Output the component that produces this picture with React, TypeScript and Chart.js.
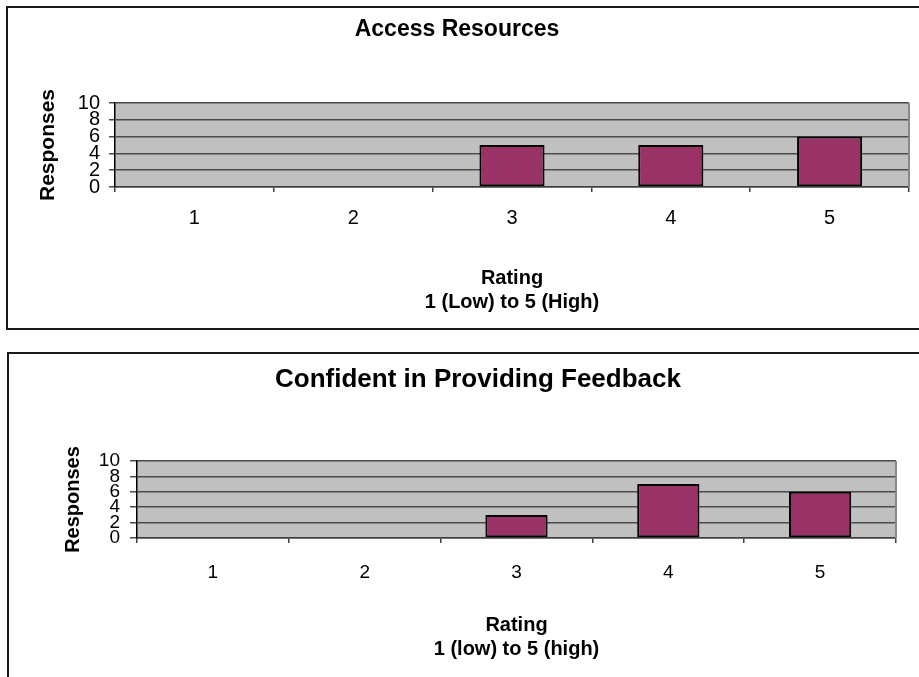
import React, { useEffect, useRef } from 'react';
import { Chart, registerables } from 'chart.js';

Chart.register(...registerables);
Chart.defaults.font.family = '"Liberation Sans", Arial, Helvetica, sans-serif';

// Survey data: number of responses per rating (1 = low, 5 = high)
const ratingLabels = ['1', '2', '3', '4', '5'];
const accessResources = [0, 0, 5, 5, 6];
const confidentFeedback = [0, 0, 3, 7, 6];
const responseTicks = [0, 2, 4, 6, 8, 10];

const accessTitle = 'Access Resources';
const accessAxisTitle = ['Rating', '1 (Low) to 5 (High)'];
const feedbackTitle = 'Confident in Providing Feedback';
const feedbackAxisTitle = ['Rating', '1 (low) to 5 (high)'];

type Geometry = {
  left: number;
  top: number;
  width: number;
  height: number;
  padRight: number;
  titleSize: number;
  titlePadTop: number;
  titlePadBottom: number;
  yWidth: number;
  yTitleSize: number;
  yTitlePad: number;
  yTickLen: number;
  yTickPad: number;
  tickSize: number;
  xTickPad: number;
  xHeight: number;
  xTitleSize: number;
};

// Grey plot background and a light frame on the right edge
const plotFrame = {
  id: 'plotFrame',
  beforeDraw(chart: Chart) {
    const { ctx, chartArea: a } = chart;
    ctx.save();
    ctx.fillStyle = '#c0c0c0';
    ctx.fillRect(a.left, a.top, a.right - a.left, a.bottom - a.top);
    ctx.restore();
  },
  afterDraw(chart: Chart) {
    const { ctx, chartArea: a } = chart;
    ctx.save();
    ctx.strokeStyle = '#888888';
    ctx.lineWidth = 2;
    ctx.beginPath();
    ctx.moveTo(a.right, a.top);
    ctx.lineTo(a.right, a.bottom);
    ctx.stroke();
    ctx.restore();
  },
};

function RatingChart(props: { title: string; values: number[]; xTitle: string[]; g: Geometry }) {
  const ref = useRef<HTMLCanvasElement | null>(null);
  const { title, values, xTitle, g } = props;

  useEffect(() => {
    if (!ref.current) return;
    const chart = new Chart(ref.current, {
      type: 'bar',
      data: {
        labels: ratingLabels,
        datasets: [
          {
            data: values,
            backgroundColor: '#993366',
            borderColor: '#000000',
            borderWidth: (c: any) => (c.raw ? 2 : 0),
            borderSkipped: false,
            categoryPercentage: 1,
            barPercentage: 0.41,
          },
        ],
      },
      options: {
        responsive: false,
        animation: false,
        devicePixelRatio: 1,
        layout: { padding: { left: 0, top: 0, right: g.padRight, bottom: 0 } },
        plugins: {
          legend: { display: false },
          tooltip: { enabled: false },
          title: {
            display: true,
            text: title,
            color: '#000',
            font: { size: g.titleSize, weight: 'bold', lineHeight: 1.2 },
            padding: { top: g.titlePadTop, bottom: g.titlePadBottom },
          },
        },
        scales: {
          x: {
            grid: {
              display: true,
              drawOnChartArea: false,
              drawTicks: true,
              tickLength: 5,
              color: '#404040',
              lineWidth: 1.5,
              offset: true,
            },
            border: { display: true, color: '#404040', width: 1.5 },
            ticks: {
              color: '#000',
              font: { size: g.tickSize },
              padding: g.xTickPad,
              maxRotation: 0,
              autoSkip: false,
            },
            title: {
              display: true,
              text: xTitle,
              color: '#000',
              font: { size: g.xTitleSize, weight: 'bold', lineHeight: 1.2 },
              padding: { top: 0, bottom: 0 },
            },
            afterFit: (s: any) => {
              s.height = g.xHeight;
            },
          },
          y: {
            min: 0,
            max: 10,
            afterBuildTicks: (s: any) => {
              s.ticks = responseTicks.map((v) => ({ value: v }));
            },
            grid: {
              color: '#4a4a4a',
              lineWidth: 1.5,
              drawTicks: true,
              tickLength: g.yTickLen,
            },
            border: { display: true, color: '#000', width: 1.5 },
            ticks: {
              color: '#000',
              font: { size: g.tickSize },
              padding: g.yTickPad,
              autoSkip: false,
            },
            title: {
              display: true,
              text: 'Responses',
              color: '#000',
              font: { size: g.yTitleSize, weight: 'bold', lineHeight: 1.2 },
              padding: { top: g.yTitlePad, bottom: 0 },
            },
            afterFit: (s: any) => {
              s.width = g.yWidth;
            },
          },
        },
      } as any,
      plugins: [plotFrame],
    });
    return () => chart.destroy();
  }, []);

  return (
    <div style={{ position: 'absolute', left: g.left, top: g.top, width: g.width, height: g.height }}>
      <canvas
        ref={ref}
        width={g.width}
        height={g.height}
        style={{ width: g.width, height: g.height, display: 'block' }}
      />
    </div>
  );
}

const accessGeometry: Geometry = {
  left: 5,
  top: 0,
  width: 914,
  height: 314,
  padRight: 10,
  titleSize: 23,
  titlePadTop: 15.7,
  titlePadBottom: 59.7,
  yWidth: 110,
  yTitleSize: 21,
  yTitlePad: 30.4,
  yTickLen: 6,
  yTickPad: 9,
  tickSize: 20,
  xTickPad: 14,
  xHeight: 127,
  xTitleSize: 20,
};

const feedbackGeometry: Geometry = {
  left: 60,
  top: 340,
  width: 859,
  height: 321,
  padRight: 23,
  titleSize: 26,
  titlePadTop: 24.4,
  titlePadBottom: 65.4,
  yWidth: 77,
  yTitleSize: 20,
  yTitlePad: 1,
  yTickLen: 7,
  yTickPad: 10,
  tickSize: 19,
  xTickPad: 18.5,
  xHeight: 123,
  xTitleSize: 20,
};

export default function App() {
  return (
    <div
      style={{
        position: 'fixed',
        left: 0,
        top: 0,
        width: 919,
        height: 677,
        overflow: 'hidden',
        background: '#ffffff',
      }}
    >
      <div
        style={{
          position: 'absolute',
          left: 6,
          top: 6,
          width: 1000,
          height: 324,
          border: '2px solid #1a1a1a',
          boxSizing: 'border-box',
        }}
      />
      <div
        style={{
          position: 'absolute',
          left: 7,
          top: 352,
          width: 1000,
          height: 400,
          border: '2px solid #1a1a1a',
          boxSizing: 'border-box',
        }}
      />
      <RatingChart title={accessTitle} values={accessResources} xTitle={accessAxisTitle} g={accessGeometry} />
      <RatingChart title={feedbackTitle} values={confidentFeedback} xTitle={feedbackAxisTitle} g={feedbackGeometry} />
    </div>
  );
}
